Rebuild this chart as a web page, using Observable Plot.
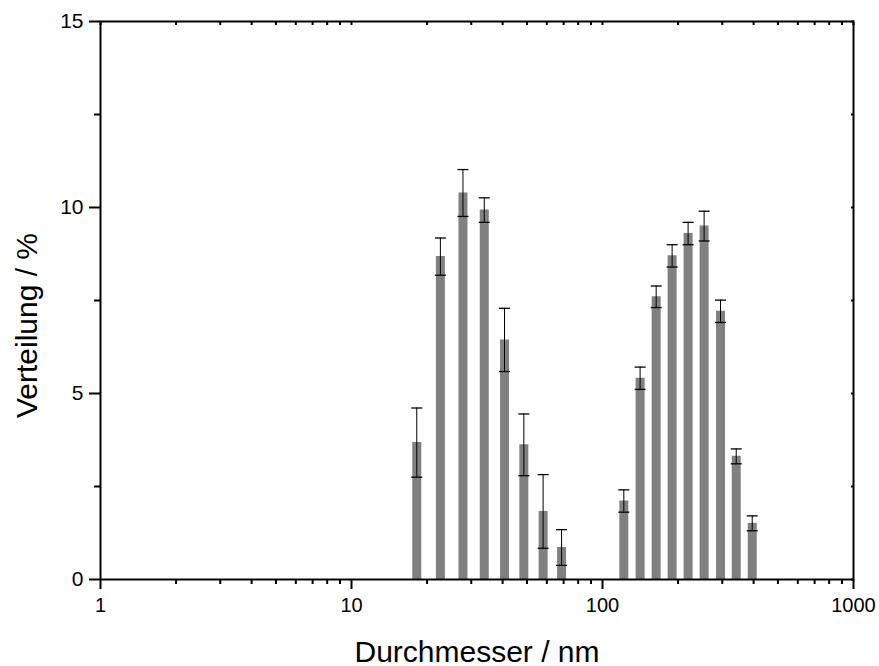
<!DOCTYPE html>
<html>
<head>
<meta charset="utf-8">
<script src="https://cdn.jsdelivr.net/npm/d3@7"></script>
<script src="https://cdn.jsdelivr.net/npm/@observablehq/plot@0.6"></script>
<style>
  html, body { margin: 0; padding: 0; background: #fff; }
  #chart { width: 879px; height: 666px; }
</style>
</head>
<body>
<div id="chart"></div>
<script>
// Diameters (nm) of the size classes
const diameters = [18.2, 22.6, 27.8, 33.8, 40.7, 48.6, 58.0, 68.7,
                   121.6, 141.2, 163.6, 189.4, 219.3, 254, 295.2, 341, 394.9];
// Distribution (%)
const values = [3.68, 8.68, 10.39, 9.93, 6.44, 3.62, 1.83, 0.86,
                2.11, 5.41, 7.60, 8.70, 9.30, 9.50, 7.21, 3.31, 1.51];
// Error (±, %)
const errors = [0.93, 0.50, 0.63, 0.33, 0.85, 0.83, 0.99, 0.48,
                0.30, 0.30, 0.29, 0.30, 0.30, 0.40, 0.30, 0.20, 0.20];

const xMajor = [1, 10, 100, 1000];
const xMinor = [2,3,4,5,6,7,8,9,20,30,40,50,60,70,80,90,200,300,400,500,600,700,800,900];
const yMajor = [0, 5, 10, 15];
const yMinor = [2.5, 7.5, 12.5];

const data = diameters.map((d, i) => ({d, v: values[i], e: errors[i]}));

const capSymbol = {
  draw(context) {
    context.moveTo(-5.5, 0);
    context.lineTo(5.5, 0);
  }
};

const font = "'Liberation Sans', Arial, sans-serif";

const chart = Plot.plot({
  width: 879,
  height: 666,
  marginLeft: 100,
  marginRight: 26,
  marginTop: 21,
  marginBottom: 87,
  style: {fontFamily: font, background: "#fff", color: "black"},
  x: {type: "log", domain: [1, 1000], axis: null},
  y: {domain: [0, 15], axis: null},
  marks: [
    Plot.ruleX(data, {x: "d", y1: 0, y2: "v", stroke: "#808080", strokeWidth: 9}),
    Plot.ruleX(data, {x: "d", y1: d => d.v - d.e, y2: d => d.v + d.e, stroke: "black", strokeWidth: 1}),
    Plot.dot(data, {x: "d", y: d => d.v + d.e, symbol: capSymbol, stroke: "black", strokeWidth: 1.3, fill: "none"}),
    Plot.dot(data, {x: "d", y: d => d.v - d.e, symbol: capSymbol, stroke: "black", strokeWidth: 1.3, fill: "none"}),
    // bottom axis
    Plot.axisX({anchor: "bottom", ticks: xMajor, tickSize: 10, tickPadding: 8, tickFormat: d => String(d), fontSize: 20, strokeWidth: 2, label: null}),
    Plot.axisX({anchor: "bottom", ticks: xMinor, tickSize: 5, tickFormat: () => "", strokeWidth: 2, label: null}),
    // top axis mirror
    Plot.axisX({anchor: "top", ticks: xMajor.concat(xMinor), tickSize: -3, tickFormat: () => "", strokeWidth: 2, label: null}),
    // left axis
    Plot.axisY({anchor: "left", ticks: yMajor, tickSize: 11, tickPadding: 6, tickFormat: d => String(d), fontSize: 21, strokeWidth: 2, label: null}),
    Plot.axisY({anchor: "left", ticks: yMinor, tickSize: 6, tickFormat: () => "", strokeWidth: 2, label: null}),
    // right axis mirror
    Plot.axisY({anchor: "right", ticks: yMajor.concat(yMinor), tickSize: -3, tickFormat: () => "", strokeWidth: 2, label: null}),
    Plot.frame({stroke: "black", strokeWidth: 2}),
    Plot.text(["Durchmesser / nm"], {frameAnchor: "bottom", text: d => d, dy: 82, lineAnchor: "bottom", fontSize: 30, fill: "black"}),
    Plot.text(["Verteilung / %"], {frameAnchor: "left", text: d => d, dx: -73, dy: 25, rotate: -90, textAnchor: "middle", lineAnchor: "middle", fontSize: 30, fill: "black"})
  ]
});

document.getElementById("chart").appendChild(chart);
</script>
</body>
</html>
